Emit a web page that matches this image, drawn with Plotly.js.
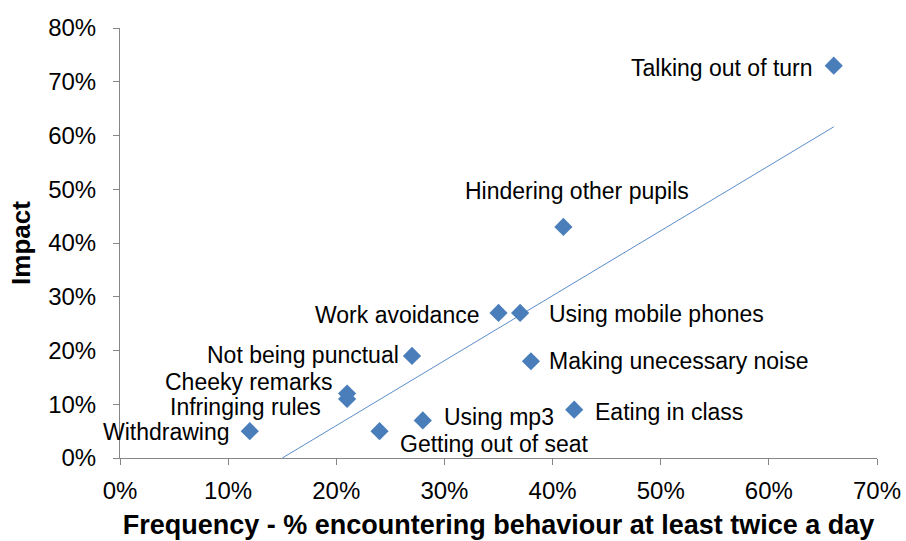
<!DOCTYPE html>
<html><head><meta charset="utf-8">
<script src="https://cdn.plot.ly/plotly-3.0.1.min.js"></script>
<style>html,body{margin:0;padding:0;background:#fff}#chart{width:906px;height:541px}</style>
</head><body><div id="chart"></div>
<script>
const behaviours = ["Talking out of turn","Hindering other pupils","Work avoidance","Using mobile phones","Not being punctual","Making unecessary noise","Cheeky remarks","Infringing rules","Eating in class","Using mp3","Getting out of seat","Withdrawing"];
const frequency = [0.66,0.41,0.35,0.37,0.27,0.38,0.21,0.21,0.42,0.28,0.24,0.12];
const impact = [0.73,0.43,0.27,0.27,0.19,0.18,0.12,0.11,0.09,0.07,0.05,0.05];
const xTicks = [0,0.1,0.2,0.3,0.4,0.5,0.6,0.7];
const yTicks = [0,0.1,0.2,0.3,0.4,0.5,0.6,0.7,0.8];

// label placement (anchor side, pixel shift from the marker)
const labelPlacement = [
 ['right',-20,-2],['center',14,36],['right',-18,-2],['left',28,-1],['right',-12,1],['left',17,0],
 ['right',-14,12],['right',-25,-8],['left',20,-2],['left',20,3],['left',19,-13],['right',-19,-1]
];

// linear trendline (least squares), as Excel's chart trendline
const n = frequency.length;
const mx = frequency.reduce((a,b)=>a+b,0)/n, my = impact.reduce((a,b)=>a+b,0)/n;
let sxy=0,sxx=0;
for(let i=0;i<n;i++){sxy+=(frequency[i]-mx)*(impact[i]-my);sxx+=(frequency[i]-mx)**2;}
const slope=sxy/sxx, icpt=my-slope*mx;
const xmin=Math.max(Math.min(...frequency), -icpt/slope), xmax=Math.max(...frequency);
const trendX=[xmin,xmax], trendY=trendX.map(x=>icpt+slope*x);

const FONT='Liberation Sans, Arial, sans-serif';
const data=[
 {type:'scatter',mode:'lines',x:trendX,y:trendY,line:{color:'#5B8CC8',width:1},hoverinfo:'skip'},
 {type:'scatter',mode:'markers',x:frequency,y:impact,
  marker:{symbol:'diamond',size:14,color:'#4A7EBB'},cliponaxis:false}
];
const annotations=behaviours.map((t,i)=>({
 x:frequency[i],y:impact[i],xref:'x',yref:'y',text:t,showarrow:false,
 xanchor:labelPlacement[i][0],yanchor:'middle',xshift:labelPlacement[i][1],yshift:labelPlacement[i][2],
 font:{family:FONT,size:23,color:'#000'},borderpad:0
}));
const layout={
 width:906,height:541,showlegend:false,paper_bgcolor:'#fff',plot_bgcolor:'#fff',
 margin:{l:120,r:29,t:28,b:83},
 font:{family:FONT,color:'#000'},
 annotations:annotations,
 xaxis:{range:[0,0.7],tickvals:xTicks,tickformat:'.0%',showgrid:false,zeroline:false,showline:true,linecolor:'#868686',linewidth:1,
   ticks:'outside',ticklen:6,tickcolor:'#868686',tickfont:{size:24},ticklabelstandoff:5,
   title:{text:'<b>Frequency - % encountering behaviour at least twice a day</b>',font:{size:27},standoff:12}},
 yaxis:{range:[0,0.8],tickvals:yTicks,tickformat:'.0%',showgrid:false,zeroline:false,showline:true,linecolor:'#868686',linewidth:1,
   ticks:'outside',ticklen:6,tickcolor:'#868686',tickfont:{size:24},ticklabelstandoff:12,
   title:{text:'<b>Impact</b>',font:{size:26},standoff:10}}
};
Plotly.newPlot('chart',data,layout,{displayModeBar:false,staticPlot:true});
</script></body></html>
